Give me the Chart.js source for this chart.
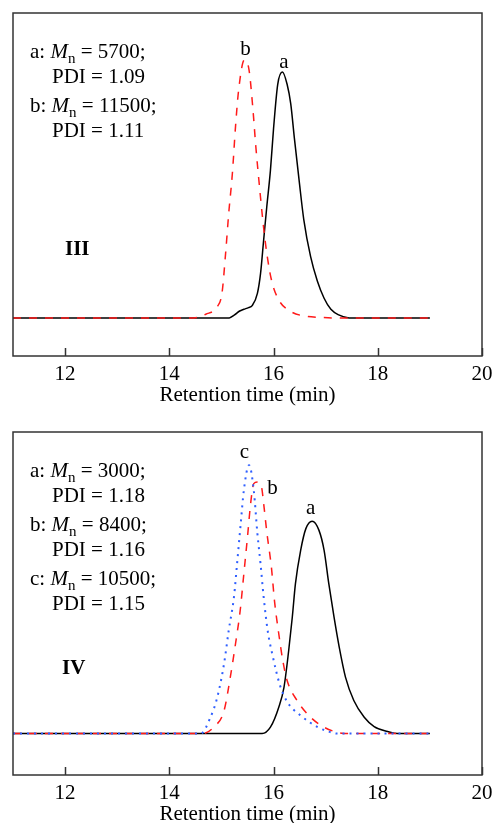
<!DOCTYPE html>
<html>
<head>
<meta charset="utf-8">
<script src="https://cdn.jsdelivr.net/npm/chart.js@4"></script>
<style>
  html, body { margin: 0; padding: 0; background: #fff; overflow: hidden; }
  body { width: 495px; height: 823px; position: relative; }
  canvas { position: absolute; left: 0; }
  #gpcTop { top: 0; }
  #gpcBottom { top: 419px; }
</style>
</head>
<body>
<canvas id="gpcTop" width="495" height="410"></canvas>
<canvas id="gpcBottom" width="495" height="410"></canvas>
<script>
// tick labels of the retention time axis
var xTicks = [12, 14, 16, 18, 20];

// panel III, curve a (solid) and b (dashed), normalised RI signal
var topAx = [11, 15.15, 15.25, 15.35, 15.43, 15.52, 15.59, 15.69, 15.75, 15.81, 15.87, 15.94, 16.0, 16.08, 16.17, 16.26, 16.33, 16.4, 16.49, 16.58, 16.71, 16.84, 16.97, 17.1, 17.25, 17.45, 19];
var topAy = [0, 0, 0.012, 0.028, 0.035, 0.042, 0.05, 0.1, 0.18, 0.317, 0.452, 0.6, 0.77, 0.95, 1.0, 0.95, 0.87, 0.73, 0.56, 0.4, 0.25, 0.15, 0.08, 0.035, 0.012, 0, 0];
var topBx = [11, 14.47, 14.7, 14.92, 15.01, 15.08, 15.14, 15.21, 15.27, 15.33, 15.44, 15.53, 15.6, 15.66, 15.73, 15.8, 15.87, 15.96, 16.1, 16.33, 16.58, 16.9, 17.15, 19];
var topBy = [0, 0, 0.015, 0.046, 0.1, 0.263, 0.426, 0.588, 0.778, 0.927, 1.049, 1.008, 0.859, 0.696, 0.534, 0.385, 0.263, 0.154, 0.073, 0.026, 0.008, 0.002, 0, 0];

// panel IV, curves a (solid), b (dashed), c (dotted)
var botAx = [11, 15.78, 15.94, 16.1, 16.2, 16.29, 16.36, 16.42, 16.52, 16.62, 16.74, 16.87, 16.97, 17.06, 17.16, 17.26, 17.38, 17.54, 17.74, 17.93, 18.19, 18.38, 19];
var botAy = [0, 0, 0.03, 0.124, 0.218, 0.39, 0.549, 0.706, 0.863, 0.965, 1.0, 0.958, 0.863, 0.706, 0.549, 0.407, 0.266, 0.156, 0.077, 0.033, 0.01, 0, 0];
var botBx = [11, 14.64, 14.85, 15.05, 15.17, 15.27, 15.36, 15.43, 15.5, 15.56, 15.62, 15.69, 15.77, 15.81, 15.87, 15.96, 16.02, 16.1, 16.18, 16.26, 16.45, 16.71, 16.97, 17.22, 17.4, 19];
var botBy = [0, 0, 0.03, 0.108, 0.266, 0.423, 0.58, 0.753, 0.926, 1.083, 1.177, 1.184, 1.16, 1.083, 0.95, 0.78, 0.62, 0.47, 0.34, 0.25, 0.156, 0.077, 0.03, 0.006, 0, 0];
var botCx = [11, 14.6, 14.79, 14.92, 15.05, 15.14, 15.24, 15.3, 15.37, 15.43, 15.53, 15.62, 15.69, 15.75, 15.81, 15.89, 15.97, 16.12, 16.26, 16.52, 16.85, 17.05, 17.22, 19];
var botCy = [0, 0, 0.077, 0.171, 0.329, 0.486, 0.643, 0.8, 0.989, 1.146, 1.264, 1.146, 0.942, 0.8, 0.643, 0.48, 0.38, 0.23, 0.15, 0.085, 0.03, 0.01, 0, 0];

// legend notes: [curve, Mn, PDI]
var topNotes = [['a', '5700', '1.09'], ['b', '11500', '1.11']];
var botNotes = [['a', '3000', '1.18'], ['b', '8400', '1.16'], ['c', '10500', '1.15']];

// peak letters: [text, x, y]
var topPeakLabels = [['b', 15.46, 1.093], ['a', 16.2, 1.04]];
var botPeakLabels = [['c', 15.44, 1.325], ['b', 15.98, 1.156], ['a', 16.71, 1.061]];

var serif = '"Liberation Serif", "Times New Roman", serif';

function pts(xs, ys) {
  return xs.map(function (x, i) { return { x: x, y: ys[i] }; });
}

function curve(xs, ys, color, dash, width) {
  return {
    data: pts(xs, ys),
    borderColor: color,
    borderWidth: width,
    borderDash: dash,
    pointRadius: 0,
    cubicInterpolationMode: 'monotone',
    fill: false
  };
}

var decorPlugin = {
  id: 'decor',
  afterDraw: function (chart) {
    var c = chart.ctx, a = chart.chartArea, sx = chart.scales.x, sy = chart.scales.y;
    var o = chart.options.plugins.decor;
    c.save();
    // frame
    c.strokeStyle = '#333';
    c.lineWidth = 1.5;
    c.strokeRect(a.left, a.top, a.right - a.left, a.bottom - a.top);
    // inward ticks
    xTicks.forEach(function (v) {
      var px = Math.round(sx.getPixelForValue(v)) + 0.5;
      c.beginPath();
      c.moveTo(px, a.bottom);
      c.lineTo(px, a.bottom - 8);
      c.stroke();
    });
    c.fillStyle = '#000';
    c.textBaseline = 'alphabetic';
    // Mn / PDI notes
    var y = a.top + 45;
    o.notes.forEach(function (n) {
      var x = a.left + 17;
      c.font = '21px ' + serif;
      c.fillText(n[0] + ': ', x, y);
      x += c.measureText(n[0] + ': ').width;
      c.font = 'italic 21px ' + serif;
      c.fillText('M', x, y);
      x += c.measureText('M').width;
      c.font = '15px ' + serif;
      c.fillText('n', x, y + 5);
      x += c.measureText('n').width;
      c.font = '21px ' + serif;
      c.fillText(' = ' + n[1] + ';', x, y);
      c.fillText('PDI = ' + n[2], a.left + 39, y + 25);
      y += 54;
    });
    // peak letters
    c.font = '21px ' + serif;
    c.textAlign = 'center';
    c.textBaseline = 'middle';
    o.peaks.forEach(function (p) {
      c.fillText(p[0], sx.getPixelForValue(p[1]), sy.getPixelForValue(p[2]));
    });
    // panel numeral
    c.font = 'bold 21px ' + serif;
    c.textAlign = 'left';
    c.textBaseline = 'alphabetic';
    c.fillText(o.roman, o.romanX, a.top + 242);
    c.restore();
  }
};

function makeChart(id, datasets, yMin, yMax, notes, peaks, roman, romanX) {
  return new Chart(document.getElementById(id), {
    type: 'line',
    data: { datasets: datasets },
    plugins: [decorPlugin],
    options: {
      responsive: false,
      animation: false,
      devicePixelRatio: 1,
      layout: { padding: { left: 13, right: 13, top: 13, bottom: 0 } },
      plugins: {
        legend: { display: false },
        tooltip: { enabled: false },
        decor: { notes: notes, peaks: peaks, roman: roman, romanX: romanX }
      },
      scales: {
        x: {
          type: 'linear',
          min: 11,
          max: 20,
          afterBuildTicks: function (s) { s.ticks = xTicks.map(function (v) { return { value: v }; }); },
          afterFit: function (s) {
            s.height = 54;
            s.paddingLeft = 0;
            s.paddingRight = 0;
          },
          grid: { display: false, drawTicks: false },
          border: { display: false },
          ticks: { color: '#000', padding: 6, maxRotation: 0, font: { family: serif, size: 21 } },
          title: {
            display: true,
            text: 'Retention time (min)',
            color: '#000',
            padding: { top: 0, bottom: 2 },
            font: { family: serif, size: 21 }
          }
        },
        y: { display: false, min: yMin, max: yMax }
      }
    }
  });
}

makeChart('gpcTop', [
  curve(topBx, topBy, '#ff1a1a', [8, 8], 1.5),
  curve(topAx, topAy, '#000', [], 1.5)
], -0.155, 1.24, topNotes, topPeakLabels, 'III', 65);

makeChart('gpcBottom', [
  curve(botCx, botCy, '#2f5fff', [2, 5], 2),
  curve(botBx, botBy, '#ff1a1a', [8, 8], 1.5),
  curve(botAx, botAy, '#000', [], 1.5)
], -0.195, 1.42, botNotes, botPeakLabels, 'IV', 62);
</script>
</body>
</html>
